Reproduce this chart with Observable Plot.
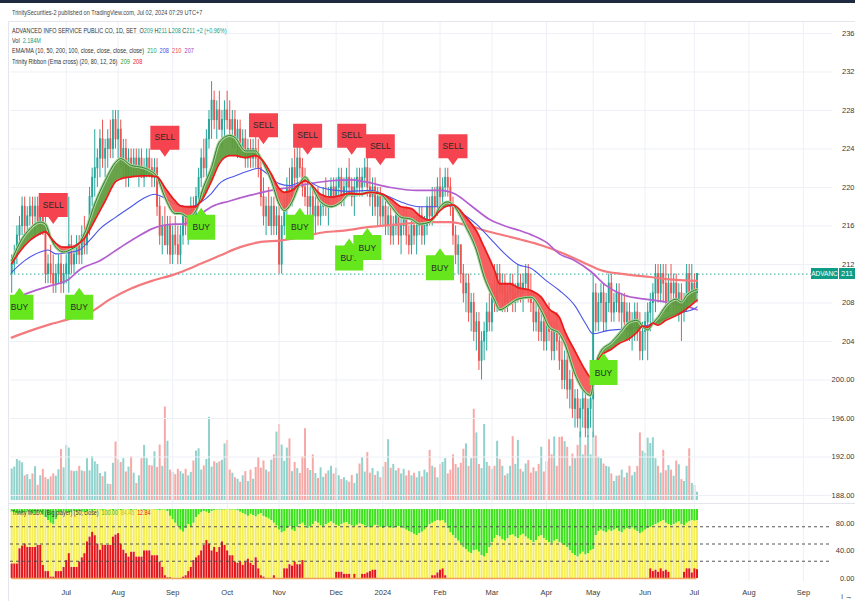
<!DOCTYPE html>
<html><head><meta charset="utf-8">
<script src="https://cdn.jsdelivr.net/npm/d3@7"></script>
<script src="https://cdn.jsdelivr.net/npm/@observablehq/plot@0.6"></script>
<style>
html,body{margin:0;padding:0;background:#fff;}
#wrap{position:relative;width:855px;height:601px;overflow:hidden;background:#fff;font-family:"Liberation Sans",Arial,sans-serif;color:#333;}
#wrap svg{display:block;max-width:none;}
.layer{position:absolute;left:0;}
.t{position:absolute;white-space:nowrap;line-height:10px;transform-origin:0 50%;}
</style></head><body><div id="wrap"></div>
<script>
// ---------- DATA ----------
const holidays = ["2023-06-05","2023-07-28","2023-08-01","2023-08-14","2023-10-13","2023-10-23","2023-12-05","2023-12-11","2023-12-29","2024-01-01","2024-02-26","2024-04-08","2024-04-12","2024-04-15","2024-04-16","2024-05-01","2024-05-06","2024-05-22","2024-06-03","2024-07-22","2024-07-29","2024-08-12"];

// daily candles [open, high, low, close], first bar 2023-06-01, last bar 2024-07-02
const ohlc = [
// Jun 2023
[211,213,209,212],[212,214,211,213],[213,216,212,215],[215,217,214,216],[216,219,215,218],
[218,219,215,216],[216,218,215,217],[217,219,216,218],[218,219,216,217],[217,219,215,218],
[218,219,216,216],[216,218,215,217],[217,218,215,216],[216,217,210,211],[211,213,210,212],
[212,214,210,211],[211,213,209,210],[210,212,209,211],[211,213,210,212],[212,213,209,210],
[210,212,209,211],
// Jul
[211,213,210,212],[211,219,209,214],[214,215,211,212],[212,214,211,213],[213,215,212,214],
[214,215,212,213],[213,216,212,215],[215,217,213,214],[214,216,213,216],[216,220,215,219],
[219,222,218,221],[221,226,219,222],[222,224,220,223],[223,226,221,225],[225,227,222,223],
[223,225,221,224],[224,226,222,225],[225,227,223,224],[224,228,223,227],[227,228,224,225],
// Aug
[225,228,223,226],[226,227,222,223],[223,225,221,224],[224,225,220,221],[221,224,220,223],
[223,224,221,222],[222,224,221,223],[223,224,221,222],[222,224,220,223],[223,224,221,221],
[221,223,220,222],[222,224,221,223],[223,224,221,222],[222,223,220,221],[221,223,220,222],
[222,223,217,218],[218,219,214,215],[215,217,213,216],[216,218,214,214],[214,217,213,216],
[216,217,212,213],
// Sep
[213,216,212,215],[215,217,213,214],[214,216,212,213],[213,216,212,215],[215,218,214,217],
[217,218,215,216],[216,218,214,217],[217,219,216,218],[218,219,216,217],[217,220,216,219],
[219,222,218,221],[221,224,220,223],[223,225,221,222],[222,226,221,225],[225,228,224,227],
[227,231,225,229],[229,230,226,227],[227,229,225,228],[228,230,226,226],[226,228,224,227],
[227,229,225,228],
// Oct
[228,230,226,227],[227,229,225,226],[226,228,224,227],[227,228,224,225],[225,227,223,226],
[226,227,223,224],[224,226,223,225],[225,226,222,223],[223,225,222,224],[224,225,222,223],
[223,225,222,224],[224,226,222,223],[223,225,221,222],[222,223,218,219],[219,221,216,217],
[217,219,215,218],[218,220,216,216],[216,219,215,218],[218,219,215,216],[216,218,215,217],
// Nov
[217,219,211,212],[212,217,211,216],[216,219,215,218],[218,221,217,220],[220,222,218,219],
[219,223,218,222],[222,224,220,221],[221,225,220,223],[223,225,221,222],[222,223,219,220],
[220,222,218,219],[219,221,217,218],[218,220,216,219],[219,220,216,217],[217,219,215,218],
[218,220,216,217],[217,219,216,218],[218,220,217,219],[219,221,217,218],[218,220,216,219],
[219,221,218,220],[220,221,218,219],
// Dec
[219,221,218,220],[220,222,219,221],[221,222,218,219],[219,221,218,220],[220,222,219,221],
[221,223,219,220],[220,221,218,219],[219,221,217,220],[220,222,219,221],[221,222,219,220],
[220,222,219,221],[221,223,220,222],[222,223,219,220],[220,222,218,219],[219,221,217,220],
[220,221,217,218],[218,220,216,219],[219,220,216,217],
// Jan 2024
[217,219,216,218],[218,219,215,216],[216,218,215,217],[217,218,214,215],[215,217,214,216],
[216,218,215,217],[217,218,214,215],[215,217,213,216],[216,218,215,217],[217,218,214,215],
[215,216,213,214],[214,217,213,216],[216,217,214,215],[215,217,213,216],[216,218,215,217],
[217,218,214,215],[215,217,214,216],[216,219,215,218],[218,219,216,217],[217,220,216,219],
[219,220,217,218],[218,221,217,220],
// Feb
[220,222,218,219],[219,221,218,220],[220,222,219,221],[221,222,219,220],[220,221,217,218],
[218,219,214,215],[215,216,212,213],[213,215,211,214],[214,214,210,211],[211,212,208,209],
[209,211,207,210],[210,211,206,207],[207,209,205,208],[208,209,204,205],[205,207,203,206],
[206,207,201,202],[202,205,200,204],[204,206,202,205],[205,208,203,207],[207,209,205,206],
// Mar
[206,210,205,209],[209,212,207,208],[208,212,207,211],[211,212,208,209],[209,211,207,210],
[210,211,207,208],[208,210,207,209],[209,211,208,210],[210,211,207,208],[208,210,207,209],
[209,212,208,210],[210,211,208,209],[209,211,207,210],[210,212,209,211],[211,212,208,209],
[209,211,207,208],[208,209,205,206],[206,208,205,207],[207,208,204,205],[205,207,204,206],
[206,207,203,204],
// Apr
[204,207,203,206],[206,208,204,205],[205,206,202,203],[203,206,202,205],[205,207,203,204],
[204,205,201,202],[202,204,199,200],[200,203,199,202],[202,203,198,199],[199,201,197,200],
[200,201,196,197],[197,199,195,198],[198,199,195,196],[196,198,194,197],[197,199,195,198],
[198,199,194,195],[195,198,194,197],[197,199,195,198],
// May
[198,211,194,209],[209,210,205,206],[206,209,205,208],[208,210,206,209],[209,210,205,206],
[206,209,205,208],[208,211,207,210],[210,211,206,207],[207,209,206,208],[208,210,207,209],
[209,210,206,207],[207,209,205,208],[208,209,205,206],[206,208,204,207],[207,208,204,205],
[205,207,203,206],[206,208,204,207],[207,208,204,205],[205,207,202,203],[203,206,202,205],
// Jun
[205,207,203,206],[206,208,202,207],[207,209,205,208],[208,210,206,209],[209,212,207,211],
[211,212,208,209],[209,212,208,211],[211,212,208,210],[210,212,207,208],[208,211,207,210],
[210,212,208,209],[209,211,207,210],[210,211,207,208],[208,210,206,209],[209,210,204,207],
[207,209,206,208],[208,212,207,211],[211,212,208,209],[209,212,208,210],
// Jul 2024
[210,211,208,209],[209,211,208,211]
];

// volume, millions of shares
const volume = [
8.3,8.8,10.8,10.4,9.9,6.5,6.8,5.5,7.0,8.9, 4.0,6.5,8.2,6.0,5.5,6.2,7.0,6.4,8.1,13.4,
8.6,14.5,13.8,7.8,7.6,7.7,9.0,7.8,7.6,11.0, 7.8,11.6,10.2,9.5,7.1,6.3,7.5,4.3,4.2,9.8,
15.4,10.7,10.0,11.0,7.5,8.8,11.5,7.2,4.5,6.5, 11.0,14.5,11.0,9.2,9.1,12.8,8.7,14.6,9.0,24.6,
15.6,8.0,7.4,6.8,8.2,7.6,7.0,8.2,6.5,7.4, 10.4,13.0,13.6,8.0,9.1,10.8,21.9,8.8,10.2,9.8,
10.2,10.6,14.9,15.8,8.0,7.2,6.0,5.6,4.8,6.5, 7.6,5.0,8.0,5.6,8.7,11.3,8.5,10.4,8.0,7.5,
10.6,12.0,18.0,20.0,14.6,10.3,13.8,16.2,7.6,10.0, 8.4,7.1,11.5,18.9,8.4,7.9,12.0,7.1,5.8,8.6,
6.1,7.0,7.8,9.0,7.0,8.5,6.5,5.5,6.0,5.2, 4.8,6.6,4.5,7.0,9.6,11.3,7.5,12.6,7.2,8.4,
6.6,7.6,6.0,8.8,10.0,16.0,8.5,9.5,7.8,8.4, 7.0,8.2,6.5,7.8,6.5,7.2,6.0,7.6,6.2,8.0,
7.3,13.2,9.0,8.6,6.0,9.4,10.0,11.0,7.0,8.0, 12.0,9.5,8.6,9.8,13.5,14.9,9.0,11.0,24.0,17.8,
9.5,8.4,20.0,10.0,9.0,8.2,9.0,15.6,10.8,9.0, 6.5,7.0,9.0,16.8,9.5,15.8,8.2,7.5,9.6,10.5,
7.2,8.6,7.6,9.5,14.0,7.5,10.2,16.0,12.0,16.7, 9.0,16.6,16.7,15.5,14.0,9.0,12.2,11.0,14.5,18.0,
12.0,14.5,17.0,12.0,18.0,17.0,11.4,11.0,9.6,9.0, 8.8,7.0,5.0,6.4,6.5,8.0,6.0,7.2,9.0,6.5,
7.4,9.0,17.8,13.0,12.4,16.4,15.0,16.5,11.0,9.0, 7.2,13.2,7.8,9.2,8.0,6.4,10.4,9.4,5.5,5.0,
9.0,13.6,4.5,4.0,2.184
];

// Trinity Ribbon (fast / slow EMA), sampled by bar index
const ribIdx  = [0,3,7,11,13,15,17,20,23,26,28,32,36,40,42,46,50,53,56,59,63,65,68,71,72,73,77,80,84,86,90,94,96,100,103,105,108,111,113,115,119,123,127,130,134,138,142,146,150,154,157,161,163,165,168,170,175,179,182,186,188,192,195,200,204,207,211,213,217,221,223,225,227,231,234,238,241,243,245,247,249,252,256,258,260,264];
const ribFast = [212.4,214.2,215.7,216.4,216.2,214.8,213.8,213.3,213.6,214.2,215.2,218.3,220.7,222.6,223.0,222.3,222.1,221.8,221.1,219.0,217.3,217.3,216.9,217.6,218.3,219.3,222.1,224.7,225.4,225.2,223.8,223.8,223.0,220.7,218.3,217.6,218.5,220.4,221.1,220.4,218.5,218.0,218.5,219.3,219.3,219.5,219.3,218.1,216.9,216.7,216.2,216.4,217.0,218.0,218.5,218.2,215.9,213.5,210.7,208.3,207.3,207.9,208.4,208.6,207.2,205.5,204.8,203.8,200.6,198.7,198.4,201.6,203.0,203.9,204.8,206.0,206.2,205.6,205.2,205.9,206.5,207.7,208.4,208.1,208.8,209.4];
const ribSlow = [212.1,213.3,214.5,215.2,215.4,214.8,214.2,213.8,213.8,214.2,214.7,216.6,218.6,220.6,220.9,221.1,221.2,221.2,221.1,220.0,218.6,218.1,218.0,218.0,218.3,218.6,220.7,222.5,223.3,223.3,223.1,223.3,223.0,221.4,219.9,219.5,219.7,220.4,220.7,220.4,219.3,219.0,219.2,219.4,219.3,219.5,219.4,218.8,218.0,217.8,217.1,216.6,217.0,217.6,218.1,218.2,216.9,215.5,213.8,211.4,210.0,210.0,209.6,209.3,208.6,207.4,206.5,205.1,203.0,201.0,200.3,201.6,202.5,203.2,203.8,204.3,205.0,205.6,205.5,205.9,205.7,206.2,206.7,207.0,207.4,208.3];

// EMA 50 (blue)
const ema50Idx = [0,5,11,14,17,21,26,30,34,40,46,51,55,59,63,65,69,73,77,80,86,92,95,98,103,107,113,119,125,130,138,144,150,157,165,169,173,179,184,190,195,200,206,211,217,221,224,229,236,244,250,256,263,264];
const ema50Val = [211.2,212.4,213.3,213.5,213.1,213.2,213.5,214.5,215.7,216.9,218.0,218.9,219.3,218.9,218.3,218.1,218.0,218.5,219.4,220.4,221.2,221.8,222.0,221.5,220.4,220.2,220.7,220.0,219.7,219.6,219.7,219.2,218.5,218.0,218.0,218.1,217.4,216.2,214.8,213.1,212.0,211.6,210.3,209.3,207.7,205.9,204.8,205.1,205.3,205.6,206.2,206.9,207.4,207.6];
// MA 100 (purple)
const ma100Idx = [0,7,15,21,27,34,42,48,54,59,63,66,71,77,84,92,100,107,115,123,131,136,146,156,165,171,177,184,190,196,200,206,211,217,223,229,236,244,252,263,264];
const ma100Val = [208.3,209.1,209.8,210.3,211.6,212.4,213.8,214.8,215.7,216.1,216.2,216.2,216.9,218.0,218.6,219.2,219.7,220.0,220.4,220.7,220.8,220.6,220.0,219.7,219.7,219.3,218.1,216.7,216.0,215.5,215.1,214.3,213.1,212.4,211.3,209.8,208.8,208.4,208.1,207.4,207.3];
// MA 200 (light red)
const ma200Idx = [0,7,15,23,30,38,46,54,63,65,73,80,88,95,104,111,119,127,138,150,161,169,175,184,196,204,213,221,227,236,246,256,264];
const ma200Val = [204.4,205.1,205.8,206.4,207.0,208.4,209.5,210.3,211.0,211.2,212.1,212.9,213.8,214.3,214.5,214.8,215.3,215.5,215.9,216.2,216.4,216.4,216.1,215.4,214.6,214.0,213.1,212.1,211.4,211.0,210.7,210.4,210.3];

// signals: bar index and price where the arrow points
const sellIdx = [16,59,97,114,131,142,170];
const sellPrice = [216.1,223.1,224.4,223.3,223.3,222.2,222.2];
const buyIdx = [3,26,73,111,130,137,165,228];
const buyPrice = [209.7,209.7,218.0,218.0,214.8,215.9,213.8,202.9];

// Trinity MCDX: green/yellow boundary and red (banker) height, per bar
const mcdxGreen = [
96,95,94,93,94,95,96,95,94,93, 94,95,92,88,84,80,78,85,95,96, 97,96,95,96,97,98,97,96,95,97,
98,97,98,99,99,98,99,100,99,98, 99,99,98,99,100,99,98,99,99,100, 99,98,99,99,100,99,99,98,99,99,
97,90,85,80,75,70,67,72,78,74, 80,88,92,95,97,96,94,97,98,99, 99,99,99,100,99,99,99,98,96,94,
92,90,93,91,89,92,94,90,88,86, 84,80,76,70,66,68,72,75,70,68, 74,78,80,76,72,75,78,82,80,76,
74,78,80,82,79,77,75,78,80,81, 78,76,75,77,79,78,76,74,73,75, 77,76,74,72,74,75,73,72,74,75,
73,72,70,68,66,64,62,65,67,70, 74,78,80,82,84,83,84,80,72,66, 62,58,54,50,45,42,38,36,40,41,
38,33,31,36,45,52,58,62,60,56, 54,58,62,63,60,58,62,64,60,57, 55,52,55,60,62,58,55,52,50,54,
56,52,50,48,45,40,36,33,31,35, 38,34,36,40,42,62,68,70,68,66, 70,68,70,72,68,66,70,72,71,73,
70,68,65,67,70,72,74,76,78,80, 82,84,80,78,76,78,80,82,78,76, 80,82,84,83,84
];
const mcdxRed = [
21,21,21,43,47,50,45,45,45,45, 48,48,19,10,10,2,2,10,10,10, 16,26,36,16,16,16,24,30,36,53,
60,67,62,50,41,48,48,48,48,60, 63,65,50,41,36,31,38,38,31,31, 31,40,40,40,33,33,33,24,16,4,
1,1,0,0,0,0,2,4,10,16, 26,30,33,40,48,55,50,40,45,38, 45,53,48,40,33,33,24,22,24,19,
24,28,22,19,30,14,4,2,0,0, 0,4,0,0,0,14,14,20,18,24, 20,20,26,0,0,0,0,0,0,0,
0,0,0,0,0,9,9,9,6,6, 6,0,6,0,0,6,6,8,10,12, 12,0,0,0,0,0,0,0,0,0,
0,0,0,0,0,0,0,0,0,0, 0,0,4,4,8,12,14,4,0,0, 0,0,0,0,0,0,0,0,0,0,
0,0,0,0,0,0,0,0,0,0, 0,0,0,0,0,0,0,0,0,0, 0,0,0,0,0,0,0,0,0,0,
0,0,0,0,0,0,0,0,0,0, 0,0,0,0,0,0,0,0,0,0, 0,0,0,0,0,0,0,0,0,0,
0,0,0,0,0,0,14,10,12,9, 14,10,12,9,0,0,0,0,0,9, 14,14,8,14,12.84
];

const priceTicks = d3.range(188, 237, 4);
const mcdxTicks = [0, 40, 80];
const mcdxLevels = [25, 50, 75];

// ---------- BUILD ----------
const hol = new Set(holidays);
const fmtDay = d3.utcFormat("%Y-%m-%d");
const days = d3.utcDays(new Date("2023-06-01"), new Date("2024-10-01"))
  .filter(d => d.getUTCDay() % 6 !== 0 && !hol.has(fmtDay(d)));
const monthIdx = [];
for (let i = 1; i < days.length; i++) if (days[i].getUTCMonth() !== days[i-1].getUTCMonth()) monthIdx.push(i);
const monthLabel = i => days[i].getUTCMonth() === 0 ? d3.utcFormat("%Y")(days[i]) : d3.utcFormat("%b")(days[i]);

const N = ohlc.length;
const UP = "#26a69a", DN = "#ef5350";
const bars = ohlc.map((r, i) => ({i, o: r[0], h: r[1], l: r[2], c: r[3], v: volume[i], up: r[3] >= r[0]}));
const rows = (idx, val) => idx.map((i, k) => ({i, v: val[k]}));
const rib = ribIdx.map((i, k) => ({i, fast: ribFast[k], slow: ribSlow[k]}));

// split ribbon into single-colour pieces
const segs = []; let cur = [rib[0]]; let sg = Math.sign(rib[0].fast - rib[0].slow);
for (let k = 1; k < rib.length; k++) {
  const q = rib[k-1], p = rib[k];
  const dq = q.fast - q.slow, dp = p.fast - p.slow, s = Math.sign(dp);
  if (s !== 0 && sg !== 0 && s !== sg) {
    const t = dq / (dq - dp), v = q.fast + t * (p.fast - q.fast);
    const c = {i: q.i + t * (p.i - q.i), fast: v, slow: v};
    cur.push(c); segs.push({sg, pts: cur}); cur = [c, p]; sg = s;
  } else if (s === 0) {
    cur.push(p); if (sg !== 0) segs.push({sg, pts: cur}); cur = [p]; sg = 0;
  } else { cur.push(p); if (sg === 0) sg = s; }
}
if (cur.length > 1) segs.push({sg, pts: cur});
const ribArea = segs.flatMap((s, j) => s.pts.map(p => ({...p, seg: j, col: s.sg >= 0 ? "#5b9a3a" : "#f65252"})));

const sells = sellIdx.map((i, k) => ({i, p: sellPrice[k]}));
const buys = buyIdx.map((i, k) => ({i, p: buyPrice[k]}));
const sellShape = {draw(ctx) {ctx.moveTo(-14.5,-32); ctx.lineTo(14.5,-32); ctx.lineTo(14.5,-8); ctx.lineTo(5,-8); ctx.lineTo(0,-1); ctx.lineTo(-5,-8); ctx.lineTo(-14.5,-8); ctx.closePath();}};
const buyShape = {draw(ctx) {ctx.moveTo(0,1); ctx.lineTo(5,8); ctx.lineTo(14,8); ctx.lineTo(14,33); ctx.lineTo(-14,33); ctx.lineTo(-14,8); ctx.lineTo(-5,8); ctx.closePath();}};

const FONT = '"Liberation Sans",Arial,sans-serif';
const common = {width: 855, marginLeft: 10, marginRight: 23, x: {domain: [-0.46, 316.2], axis: null}};
const GRID = "#edf0f5";

const volPlot = Plot.plot({...common, height: 481, marginTop: 0, marginBottom: 0,
  style: {background: "transparent"},
  y: {domain: [0, 26], range: [478, 379.2], axis: null},
  marks: [
    Plot.ruleX(bars, {x: "i", y1: 0, y2: "v", stroke: d => d.up ? "#92d2cc" : "#f7a9a7", strokeWidth: 2})
  ]});

const pricePlot = Plot.plot({...common, height: 481, marginTop: 0, marginBottom: 0,
  style: {background: "transparent", fontFamily: FONT},
  y: {domain: [187.17, 237.14], axis: null},
  marks: [
    Plot.gridY(priceTicks, {stroke: GRID, strokeOpacity: 1}),
    Plot.gridX(monthIdx, {stroke: GRID, strokeOpacity: 1}),
    Plot.axisY(priceTicks, {anchor: "right", tickSize: 0, tickPadding: 22, textAnchor: "end", fontSize: 7.5, fill: "#3a3a3a",
      tickFormat: d => d >= 204 ? String(d) : d.toFixed(2)}),
    Plot.ruleY([bars[N-1].c], {x1: -0.46, x2: 316.2, stroke: UP, strokeDasharray: "1.5,2.5", strokeWidth: 1}),
    Plot.ruleX(bars, {x: "i", y1: "l", y2: "h", stroke: d => d.up ? UP : DN, strokeWidth: 1}),
    Plot.ruleX(bars, {x: "i", y1: d => Math.max(d.o, d.c), y2: d => Math.min(d.o, d.c), stroke: d => d.up ? UP : DN, strokeWidth: 1.9, insetTop: -0.5, insetBottom: -0.5}),
    Plot.line(rows(ma200Idx, ma200Val), {x: "i", y: "v", stroke: "#f47a7e", strokeWidth: 2.2, curve: "monotone-x"}),
    Plot.line(rows(ma100Idx, ma100Val), {x: "i", y: "v", stroke: "#b45fd0", strokeWidth: 1.7, curve: "monotone-x"}),
    Plot.line(rows(ema50Idx, ema50Val), {x: "i", y: "v", stroke: "#4b55e8", strokeWidth: 1.1, curve: "monotone-x"}),
    Plot.areaY(ribArea, {x: "i", y1: "slow", y2: "fast", z: "seg", fill: "col", fillOpacity: 0.92, curve: "monotone-x"}),
    Plot.line(rib, {x: "i", y: "fast", stroke: "#a8d39a", strokeWidth: 3, curve: "monotone-x"}),
    Plot.line(rib, {x: "i", y: "fast", stroke: "#2f7d2f", strokeWidth: 1, curve: "monotone-x"}),
    Plot.line(rib, {x: "i", y: "slow", stroke: "#ec1c1c", strokeWidth: 1.8, curve: "monotone-x"}),
    ...sells.flatMap(s => [
      Plot.dot([s], {x: "i", y: "p", symbol: sellShape, fill: "#f5444f", stroke: "none", clip: true}),
      Plot.text([s], {x: "i", y: "p", text: () => "SELL", dy: -20, fill: "#2a2a2a", fontSize: 8.5, clip: true})
    ]),
    ...buys.flatMap(b => [
      Plot.dot([b], {x: "i", y: "p", symbol: buyShape, fill: "#66e61c", stroke: "none", clip: true}),
      Plot.text([b], {x: "i", y: "p", text: () => "BUY", dy: 21, fill: "#2a2a2a", fontSize: 8.5, clip: true})
    ])
  ]});

const mc = mcdxGreen.map((g, i) => ({i, g, r: mcdxRed[i]}));
const indPlot = Plot.plot({...common, height: 98, marginTop: 0, marginBottom: 20,
  style: {background: "transparent", fontFamily: FONT},
  y: {domain: [-4.35, 108.7], axis: null},
  marks: [
    Plot.gridX(monthIdx, {stroke: GRID, strokeOpacity: 1}),
    Plot.ruleX(mc, {x: "i", y1: "g", y2: 100, stroke: "#3ee21c", strokeWidth: 2.05}),
    Plot.ruleX(mc, {x: "i", y1: "r", y2: "g", stroke: "#f5ef55", strokeWidth: 2.05}),
    Plot.ruleX(mc.filter(d => d.r > 0), {x: "i", y1: 0, y2: "r", stroke: "#e4161a", strokeWidth: 2.05}),
    Plot.ruleY([0], {x1: 0, x2: N - 1, stroke: "#f0a15a", strokeWidth: 1.5}),
    Plot.ruleY(mcdxLevels, {x1: -0.46, x2: 316.2, stroke: "#444", strokeDasharray: "3,3", strokeWidth: 0.9}),
    Plot.axisY(mcdxTicks, {anchor: "right", tickSize: 0, tickPadding: 22, textAnchor: "end", fontSize: 7.5, fill: "#3a3a3a", tickFormat: d => d.toFixed(2)}),
    Plot.axisX(monthIdx, {anchor: "bottom", tickSize: 0, tickPadding: 8, fontSize: 7.5, fill: "#3a3a3a", tickFormat: monthLabel})
  ]});

// ---------- LAYOUT ----------
const wrap = document.getElementById("wrap");
function layer(el, top) { const d = document.createElement("div"); d.className = "layer"; d.style.top = top + "px"; d.appendChild(el); wrap.appendChild(d); return d; }
function txt(html, left, top, size, sx, extra) { const d = document.createElement("div"); d.className = "t"; d.innerHTML = html; d.style.left = left + "px"; d.style.top = top + "px"; d.style.fontSize = size + "px"; d.style.transform = `scaleX(${sx})`; if (extra) Object.assign(d.style, extra); wrap.appendChild(d); return d; }
function box(style) { const d = document.createElement("div"); d.style.position = "absolute"; Object.assign(d.style, style); wrap.appendChild(d); return d; }

box({left: "0px", top: "0px", width: "855px", height: "3px", background: "#1f2a40"});
layer(volPlot, 22);
layer(pricePlot, 22);
layer(indPlot, 503);
box({left: "8px", top: "21px", width: "847px", height: "1px", background: "#e3e6ec"});
box({left: "8px", top: "503px", width: "847px", height: "1px", background: "#e3e6ec"});
box({left: "8px", top: "21px", width: "1px", height: "580px", background: "#e3e6ec"});

// last price tag (position from the plot's y scale)
const yTag = pricePlot.scale("y").apply(bars[N-1].c) + 22;
box({left: "811px", top: (yTag - 5.5) + "px", width: "27px", height: "11px", background: "#0f9d87", color: "#fff", font: "6.5px " + FONT, lineHeight: "11px", textAlign: "center"}).textContent = "ADVANC";
box({left: "839px", top: (yTag - 5.5) + "px", width: "16px", height: "11px", background: "#0f9d87", color: "#fff", font: "7.5px " + FONT, lineHeight: "11px", textAlign: "center"}).textContent = String(bars[N-1].c);

const last = bars[N-1], prev = bars[N-2];
const ch = last.c - prev.c, pct = (ch / prev.c * 100).toFixed(2);
const G = "#0f9d87";
txt("TrinitySecurities-2 published on TradingView.com, Jul 02, 2024 07:29 UTC+7", 12, 8, 6.5, 0.86, {color: "#444"});
txt(`ADVANCED INFO SERVICE PUBLIC CO, 1D, SET&nbsp; O<span style="color:${G}">${last.o}</span> H<span style="color:${G}">${last.h}</span> L<span style="color:${G}">${last.l}</span> C<span style="color:${G}">${last.c}</span> <span style="color:${G}">${ch > 0 ? "+" : ""}${ch} (${ch > 0 ? "+" : ""}${pct}%)</span>`, 12, 25.5, 6.5, 0.84);
txt(`Vol&nbsp; <span style="color:${G}">${last.v.toFixed(3)}M</span>`, 12, 35.5, 6.5, 0.84);
txt(`EMA/MA (10, 50, 200, 100, close, close, close, close)&nbsp; <span style="color:#2e9e2e">210</span>&nbsp; <span style="color:#3f4fe6">208</span>&nbsp; <span style="color:#f0474f">210</span>&nbsp; <span style="color:#a03cbd">207</span>`, 12, 46, 6.5, 0.86);
txt(`Trinity Ribbon (Ema cross) (20, 80, 12, 26)&nbsp; <span style="color:#2e9e2e">209</span>&nbsp; <span style="color:#ec1c1c">208</span>`, 12, 56.5, 6.5, 0.86);
txt(`Trinity MCDX (Big player) (50, close)&nbsp; <span style="color:#2fb51a">100.00</span>&nbsp; <span style="color:#c9c21a">84.46</span>&nbsp; <span style="color:#e4161a">12.84</span>`, 12, 508, 6.5, 0.82, {color: "#333"});
</script></body></html>
